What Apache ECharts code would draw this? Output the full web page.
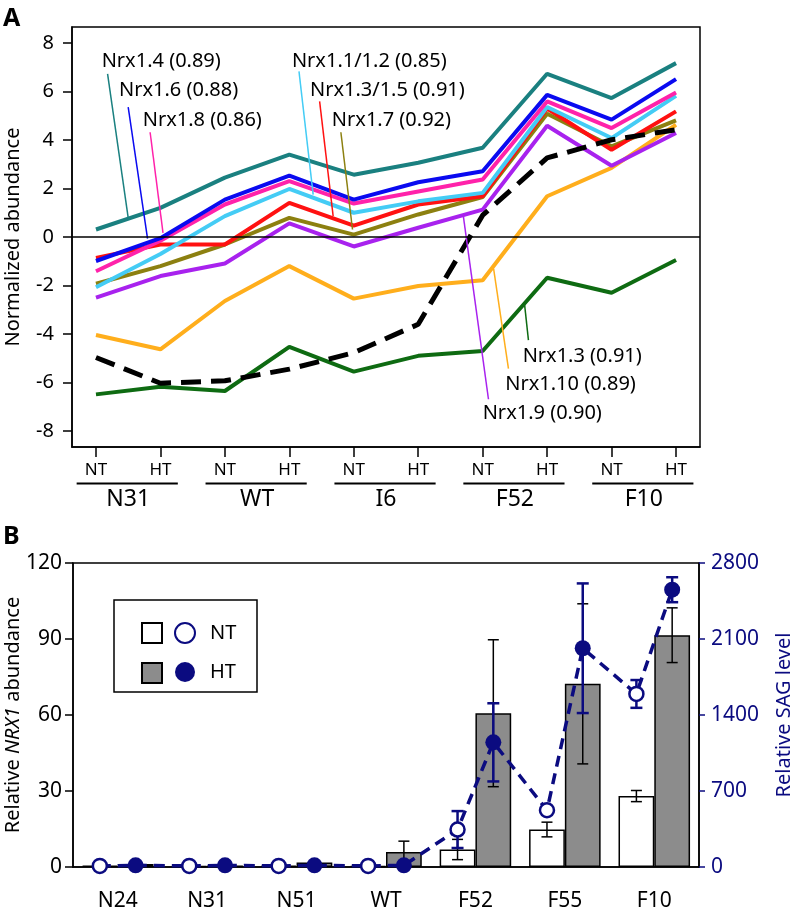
<!DOCTYPE html>
<html><head><meta charset="utf-8">
<script src="https://cdn.jsdelivr.net/npm/echarts@6/dist/echarts.min.js"></script>
<style>html,body{margin:0;padding:0;background:#fff}#c{width:793px;height:914px}</style>
</head><body><div id="c"></div>
<script>
// ---------- Panel A data ----------
const pointsA = ['NT','HT','NT','HT','NT','HT','NT','HT','NT','HT'];
const groupsA = ['N31','WT','I6','F52','F10'];
const yTicksA = [-8,-6,-4,-2,0,2,4,6,8];
const nrx1_4   = [0.31, 1.2, 2.45, 3.4, 2.57, 3.06, 3.68, 6.73, 5.73, 7.17];
const nrx1_6   = [-0.99, -0.05, 1.54, 2.53, 1.54, 2.26, 2.71, 5.86, 4.84, 6.51];
const nrx1_8   = [-1.41, -0.15, 1.34, 2.3, 1.38, 1.88, 2.37, 5.59, 4.49, 5.96];
const nrx1_1_2 = [-2.07, -0.7, 0.86, 1.98, 1.0, 1.47, 1.82, 5.36, 4.08, 5.82];
const nrx1_3_5 = [-0.86, -0.31, -0.31, 1.41, 0.47, 1.34, 1.68, 5.3, 3.6, 5.18];
const nrx1_7   = [-1.93, -1.2, -0.31, 0.79, 0.1, 0.93, 1.65, 5.08, 3.74, 4.81];
const nrx1_9   = [-2.5, -1.61, -1.09, 0.56, -0.39, 0.38, 1.13, 4.59, 2.94, 4.29];
const nrx1_10  = [-4.04, -4.63, -2.64, -1.2, -2.54, -2.02, -1.78, 1.68, 2.85, 4.63];
const nrx1_3   = [-6.49, -6.18, -6.35, -4.53, -5.55, -4.9, -4.7, -1.68, -2.3, -0.95];
const nrx1All  = [-4.97, -6.03, -5.93, -5.45, -4.77, -3.6, 0.9, 3.26, 4.01, 4.42];

// annotation labels (text anchor, leader start, leader end) in data units
const annLabels = ['Nrx1.4 (0.89)','Nrx1.6 (0.88)','Nrx1.8 (0.86)','Nrx1.1/1.2 (0.85)','Nrx1.3/1.5 (0.91)','Nrx1.7 (0.92)','Nrx1.3 (0.91)','Nrx1.10 (0.89)','Nrx1.9 (0.90)'];
const annText  = [[0.088,7.23],[0.357,6.05],[0.725,4.81],[3.04,7.24],[3.32,6.05],[3.66,4.81],[6.62,-4.91],[6.35,-6.07],[6.0,-7.27]];
const annFrom  = [[0.18,6.73],[0.50,5.36],[0.84,4.32],[3.15,6.83],[3.47,5.59],[3.80,4.32],[6.71,-4.25],[6.40,-5.43],[6.09,-6.69]];
const annTo    = [[0.50,0.79],[0.80,-0.07],[1.04,0.17],[3.37,1.75],[3.68,0.86],[3.98,0.31],[6.65,-2.78],[6.17,-1.31],[5.70,0.86]];

// ---------- Panel B data ----------
const categoriesB = ['N24','N31','N51','WT','F52','F55','F10'];
const nrxNT    = [0.5, 0.4, 0.5, 0.3, 6.9, 14.8, 28.0];
const nrxNTerr = [0, 0, 0, 0, 4.0, 2.9, 2.2];
const nrxHT    = [1.2, 0.6, 1.8, 5.9, 60.7, 72.3, 91.5];
const nrxHTerr = [0, 0, 0, 4.3, 29, 31.6, 10.8];
const sagNT    = [10, 10, 10, 10, 345, 523, 1594];
const sagNTerr = [0, 0, 0, 0, 170, 0, 128];
const sagHT    = [15, 15, 15, 15, 1148, 2015, 2554];
const sagHTerr = [0, 0, 0, 0, 360, 597, 115];

const FONT = 'Noto Sans';
const NAVY = '#0b0b80';
const idxA = pointsA.map((_, i) => i);

const linesA = [
  {name:'Nrx1.3', data:nrx1_3, color:'#0e6b12'},
  {name:'Nrx1.10', data:nrx1_10, color:'#ffae1c'},
  {name:'Nrx1.9', data:nrx1_9, color:'#a822ee'},
  {name:'Nrx1.7', data:nrx1_7, color:'#8c8010'},
  {name:'Nrx1.3/1.5', data:nrx1_3_5, color:'#ff1111'},
  {name:'Nrx1.1/1.2', data:nrx1_1_2, color:'#44ccf5'},
  {name:'Nrx1.8', data:nrx1_8, color:'#ff22aa'},
  {name:'Nrx1.6', data:nrx1_6, color:'#0a0af0'},
  {name:'Nrx1.4', data:nrx1_4, color:'#1a8080'}
];
const annColors = ['#1a8080','#0a0af0','#ff22aa','#44ccf5','#ff1111','#8c8010','#0e6b12','#ffae1c','#a822ee'];

const barFrac = 0.4;
const offNT = -barFrac/2, offHT = barFrac/2;

const seriesA = linesA.map((s, k) => ({
  type:'line', name:s.name, xAxisIndex:0, yAxisIndex:0,
  data:s.data.map((v,i)=>[i,v]), showSymbol:false, symbol:'none',
  lineStyle:{color:s.color, width:4}, itemStyle:{color:s.color}, z:2,
  markLine: k===0 ? {silent:true, symbol:'none', label:{show:false}, lineStyle:{color:'#000', width:1.5, type:'solid'}, data:[{yAxis:0}]} : undefined
}));
seriesA.push({type:'line', name:'all', xAxisIndex:0, yAxisIndex:0, data:nrx1All.map((v,i)=>[i,v]), symbol:'none',
  lineStyle:{color:'#000', width:5, type:[20,10]}, z:3});
seriesA.push({
  type:'custom', xAxisIndex:0, yAxisIndex:0, z:4,
  data: annLabels.map((t,i)=>[annText[i][0],annText[i][1],annFrom[i][0],annFrom[i][1],annTo[i][0],annTo[i][1]]),
  renderItem:(params, api)=>{
    const i = params.dataIndex;
    const pt = api.coord([api.value(0), api.value(1)]);
    const p1 = api.coord([api.value(2), api.value(3)]);
    const p2 = api.coord([api.value(4), api.value(5)]);
    return {type:'group', children:[
      {type:'line', shape:{x1:p1[0],y1:p1[1],x2:p2[0],y2:p2[1]}, style:{stroke:annColors[i], lineWidth:1.5}},
      {type:'text', x:pt[0], y:pt[1], style:{text:annLabels[i], fill:'#000', font:'20px "Noto Sans"', align:'left', verticalAlign:'middle'}}
    ]};
  }
});

function barErr(vals, errs, off){
  return vals.map((v,i)=>[i, v, errs[i], off]);
}
const barErrRender = (params, api) => {
  const idx = api.value(0), v = api.value(1), e = api.value(2), off = api.value(3);
  if (!e) return null;
  const bw = api.size([1,0])[0];
  const x = api.coord([idx, v])[0] + off*bw;
  const t = api.coord([idx, v+e])[1], b = api.coord([idx, v-e])[1];
  const h = 5.5;
  const st = {stroke:'#000', lineWidth:1.5};
  return {type:'group', children:[
    {type:'line', shape:{x1:x,y1:t,x2:x,y2:b}, style:st},
    {type:'line', shape:{x1:x-h,y1:t,x2:x+h,y2:t}, style:st},
    {type:'line', shape:{x1:x-h,y1:b,x2:x+h,y2:b}, style:st}
  ]};
};
const sagErrRender = (params, api) => {
  const x0 = api.value(0), v = api.value(1), e = api.value(2);
  if (!e) return null;
  const x = api.coord([x0, v])[0];
  const t = api.coord([x0, v+e])[1], b = api.coord([x0, v-e])[1];
  const h = 6;
  const st = {stroke:NAVY, lineWidth:2.5};
  return {type:'group', children:[
    {type:'line', shape:{x1:x,y1:t,x2:x,y2:b}, style:st},
    {type:'line', shape:{x1:x-h,y1:t,x2:x+h,y2:t}, style:st},
    {type:'line', shape:{x1:x-h,y1:b,x2:x+h,y2:b}, style:st}
  ]};
};

const sagLine = [];
categoriesB.forEach((c,i)=>{ sagLine.push([i+0.5+offNT, sagNT[i]]); sagLine.push([i+0.5+offHT, sagHT[i]]); });

const seriesB = [
  {type:'bar', name:'NT bar', xAxisIndex:2, yAxisIndex:1, data:nrxNT, barWidth:(barFrac*100)+'%', barGap:'0%',
    itemStyle:{color:'#ffffff', borderColor:'#000', borderWidth:1.5}},
  {type:'bar', name:'HT bar', xAxisIndex:2, yAxisIndex:1, data:nrxHT, barWidth:(barFrac*100)+'%', barGap:'0%',
    itemStyle:{color:'#8c8c8c', borderColor:'#000', borderWidth:1.5}},
  {type:'custom', xAxisIndex:2, yAxisIndex:1, data:barErr(nrxNT,nrxNTerr,offNT).concat(barErr(nrxHT,nrxHTerr,offHT)), renderItem:barErrRender, z:3},
  {type:'line', name:'SAG', xAxisIndex:3, yAxisIndex:2, data:sagLine, symbol:'none', lineStyle:{color:NAVY, width:3.5, type:[11,7]}, z:4},
  {type:'custom', xAxisIndex:3, yAxisIndex:2, data:categoriesB.map((c,i)=>[i+0.5+offNT, sagNT[i], sagNTerr[i]]).concat(categoriesB.map((c,i)=>[i+0.5+offHT, sagHT[i], sagHTerr[i]])), renderItem:sagErrRender, z:5},
  {type:'scatter', name:'NT', xAxisIndex:3, yAxisIndex:2, data:categoriesB.map((c,i)=>[i+0.5+offNT, sagNT[i]]), symbol:'circle', symbolSize:14,
    itemStyle:{color:'#ffffff', borderColor:NAVY, borderWidth:2.5, opacity:1}, z:6},
  {type:'scatter', name:'HT', xAxisIndex:3, yAxisIndex:2, data:categoriesB.map((c,i)=>[i+0.5+offHT, sagHT[i]]), symbol:'circle', symbolSize:16,
    itemStyle:{color:NAVY, opacity:1}, z:6}
];

const blackAxis = {show:true, onZero:false, lineStyle:{color:'#000', width:1.5}};
const option = {
  animation:false,
  textStyle:{fontFamily:FONT},
  grid:[
    {left:72, right:93, top:27, height:420, show:true, borderColor:'#000', borderWidth:1.5, containLabel:false, outerBoundsMode:'none'},
    {left:73, right:94, top:563, height:304, show:true, borderColor:'#000', borderWidth:1.5, containLabel:false, outerBoundsMode:'none'}
  ],
  legend:[
    {data:['NT bar','HT bar'], left:136, top:617, orient:'vertical', itemWidth:20, itemHeight:20, itemGap:18,
      formatter:()=>'', selectedMode:false, icon:'rect'},
    {data:['NT','HT'], left:169, top:617, orient:'vertical', itemWidth:20, itemHeight:20, itemGap:18, icon:'circle', selectedMode:false,
      formatter:n=>'{a|'+n+'}', textStyle:{rich:{a:{fontSize:20, padding:[0,0,0,10], color:'#000', fontFamily:FONT}}}}
  ],
  xAxis:[
    {gridIndex:0, type:'value', min:-0.372, max:9.372, axisLine:blackAxis,
      axisTick:{show:true, customValues:idxA, length:10, lineStyle:{color:'#000', width:1.5}},
      axisLabel:{customValues:idxA, formatter:v=>pointsA[Math.round(v)], fontSize:17, color:'#000', margin:15},
      splitLine:{show:false}},
    {gridIndex:0, type:'value', min:-0.372, max:9.372, position:'bottom', axisLine:{show:false, onZero:false}, axisTick:{show:false},
      axisLabel:{customValues:groupsA.map((g,i)=>2*i+0.5), formatter:v=>groupsA[Math.round((v-0.5)/2)], fontSize:23, color:'#000', margin:41},
      splitLine:{show:false}},
    {gridIndex:1, type:'category', data:categoriesB, axisLine:blackAxis,
      axisTick:{length:7, lineStyle:{color:'#000', width:1.5}},
      axisLabel:{fontSize:21, color:'#000', margin:24}},
    {gridIndex:1, type:'value', min:0, max:7, show:false}
  ],
  yAxis:[
    {gridIndex:0, type:'value', min:-8.66, max:8.66, axisLine:blackAxis,
      axisTick:{show:true, customValues:yTicksA, length:9, lineStyle:{color:'#000', width:1.5}},
      axisLabel:{customValues:yTicksA, fontSize:20, color:'#000', margin:18},
      splitLine:{show:false},
      name:'Normalized abundance', nameLocation:'middle', nameGap:49, nameMoveOverlap:false, nameTextStyle:{fontSize:20, color:'#000'}},
    {gridIndex:1, type:'value', min:0, max:120, interval:30, axisLine:blackAxis,
      axisTick:{show:true, length:8, lineStyle:{color:'#000', width:1.5}},
      axisLabel:{fontSize:21, color:'#000', margin:11}, splitLine:{show:false},
      name:'Relative {i|NRX1} abundance', nameLocation:'middle', nameGap:50, nameMoveOverlap:false,
      nameTextStyle:{fontSize:20, color:'#000', rich:{i:{fontStyle:'italic', fontSize:20, color:'#000', fontFamily:FONT}}}},
    {gridIndex:1, type:'value', position:'right', min:0, max:2800, interval:700, axisLine:blackAxis,
      axisTick:{show:true, length:6, lineStyle:{color:NAVY, width:1.5}},
      axisLabel:{fontSize:21, color:NAVY, margin:12, formatter:v=>String(v)}, splitLine:{show:false},
      name:'Relative SAG level', nameLocation:'middle', nameGap:75, nameRotate:90, nameMoveOverlap:false, nameTextStyle:{fontSize:20, color:NAVY}}
  ],
  series: seriesA.concat(seriesB)
};

const chart = echarts.init(document.getElementById('c'), null, {renderer:'canvas'});
chart.setOption(option);

// group underlines under panel A x labels + panel letters + legend box
const graphics = [];
groupsA.forEach((g,i)=>{
  const x1 = chart.convertToPixel({xAxisIndex:0}, 2*i-0.3);
  const x2 = chart.convertToPixel({xAxisIndex:0}, 2*i+1.27);
  graphics.push({type:'line', shape:{x1:x1, y1:483.5, x2:x2, y2:483.5}, style:{stroke:'#000', lineWidth:2}});
});
graphics.push({type:'text', left:3, top:6, style:{text:'A', font:'bold 25px "Noto Sans"', fill:'#000'}});
graphics.push({type:'text', left:3, top:524, style:{text:'B', font:'bold 25px "Noto Sans"', fill:'#000'}});
graphics.push({type:'rect', shape:{x:114, y:600, width:143, height:92}, style:{fill:'none', stroke:'#000', lineWidth:1.5}, z:-1});
chart.setOption({graphic:graphics});
</script></body></html>
